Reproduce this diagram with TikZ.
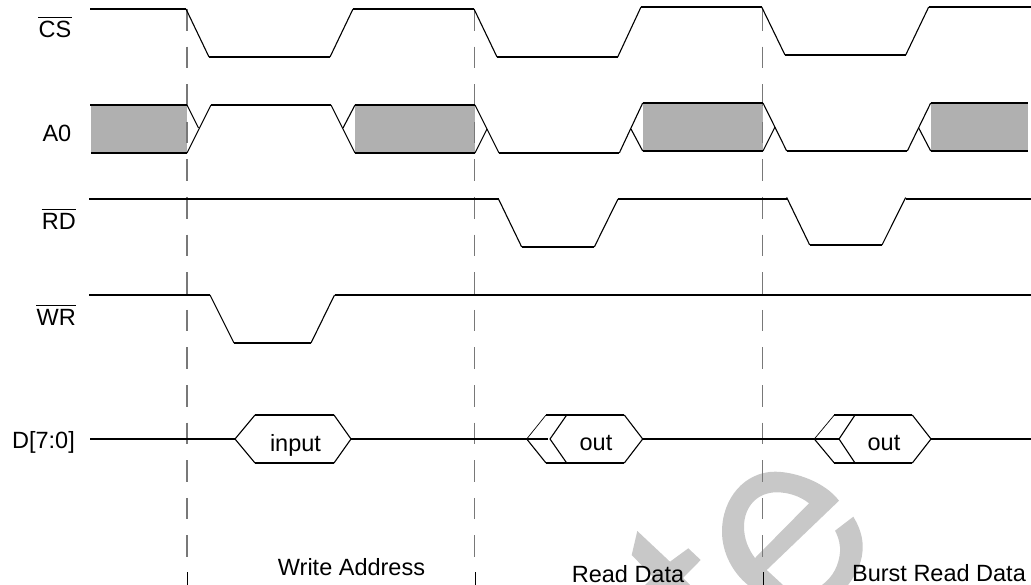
\documentclass[tikz,border=0pt]{standalone}
\usepackage{fontspec}
\setmainfont{Liberation Sans}
\definecolor{wavegray}{HTML}{B0B0B0}
\definecolor{markgray}{HTML}{C8C8C8}
\definecolor{dashgray}{HTML}{787878}
\tikzset{
  wave/.style={line width=1.6pt,line join=miter},
  edge/.style={line width=1.1pt},
  thin edge/.style={line width=.7pt},
  guide/.style={dashgray,line width=1.3pt,dash pattern=on 21.6pt off 16pt},
  guidetail/.style={black,line width=.9pt},
  bar/.style={line width=1.2pt},
  sig/.style={font=\fontsize{23.5}{26}\selectfont,anchor=base east,inner sep=0pt},
  lbl/.style={font=\fontsize{23.5}{26}\selectfont,anchor=base,inner sep=0pt},
}
\begin{document}
\begin{tikzpicture}[x=1pt,y=-1pt]
\useasboundingbox (0,0) rectangle (1031,585);
% watermark
\fill[markgray] (637.3,531) -- (670,561.7) -- (688.3,548.3) -- (700.7,560) -- (683,578) -- (690,585) -- (645,585) -- (653,577) -- (631.7,555) -- cycle;
\fill[markgray,even odd rule] (839,500.7) .. controls (825,482) and (795,471.7) .. (775,471.7) .. controls (745,471.7) and (722,498) .. (722,531.7) .. controls (722,553) and (733,573) .. (748,585) -- (783,585) -- (766.7,570) -- cycle
 (809,503.3) .. controls (800,496) and (788,492.3) .. (776.7,492.3) .. controls (757,492.3) and (744,507) .. (744,526.7) .. controls (744,538) and (748,549) .. (755,558) -- cycle;
\fill[markgray] (853.3,516.7) -- (835,530.7) .. controls (839,538) and (840.5,546) .. (840,552) .. controls (839,565) and (833,577) .. (822,585) -- (848,585) .. controls (858,572) and (862.7,560) .. (862.7,546.7) .. controls (862.7,536) and (859,526) .. (853.3,516.7) -- cycle;
% gray bands
\fill[wavegray] (91,105) rectangle (187,153);
\fill[wavegray] (355,105) rectangle (475,153);
\fill[wavegray] (643,103) rectangle (763,151);
\fill[wavegray] (931,103) rectangle (1028,151);
% guides
\foreach \gx in {187,474.7,762.7}{
  \draw[guide] (\gx,9) -- (\gx,557);
  \draw[guidetail] (\gx+.5,572) -- (\gx+.5,585);
}
% CS
\draw[wave] (90,9) -- (186,9);
\draw[edge] (186,9) -- (209,57);
\draw[wave] (209,57) -- (330,57);
\draw[edge] (330,57) -- (353,9);
\draw[wave] (353,9) -- (474,9);
\draw[edge] (474,9) -- (497,57);
\draw[wave] (497,57) -- (617.7,57);
\draw[edge] (617.7,57) -- (641,7);
\draw[wave] (641,7) -- (761.7,7);
\draw[edge] (761.7,7) -- (785,55);
\draw[wave] (785,55) -- (905.7,55);
\draw[edge] (905.7,55) -- (928.7,7);
\draw[wave] (928.7,7) -- (1031,7);
% A0
\draw[wave] (90,105) -- (187,105);
\draw[wave] (91,153) -- (187,153);
\draw[edge] (187,105) -- (198.5,128);
\draw[edge] (187,153) -- (211,105);
\draw[wave] (211,105) -- (331,105);
\draw[edge] (331,105) -- (355,153);
\draw[edge] (355,105) -- (343,128);
\draw[wave] (355,105) -- (475,105);
\draw[wave] (355,153) -- (475,153);
\draw[edge] (475,105) -- (499,153);
\draw[edge] (475,153) -- (487,129);
\draw[wave] (499,153) -- (619.3,153);
\draw[edge] (619.3,153) -- (642.7,103);
\draw[edge] (642.7,151) -- (631,129);
\draw[wave] (642.7,103) -- (763,103);
\draw[wave] (642.7,151) -- (763,151);
\draw[edge] (763,103) -- (786.7,151);
\draw[edge] (763,151) -- (775,127);
\draw[wave] (786.7,151) -- (907.3,151);
\draw[edge] (907.3,151) -- (930.7,103);
\draw[edge] (930.7,151) -- (918.7,128);
\draw[wave] (930.7,103) -- (1028,103);
\draw[wave] (930.7,151) -- (1028,151);
% RD
\draw[wave] (89,199) -- (498.5,199);
\draw[edge] (498.5,199) -- (521.7,247);
\draw[wave] (521.7,247) -- (594.3,247);
\draw[edge] (594.3,247) -- (618,199);
\draw[wave] (618,199) -- (786.7,199);
\draw[edge] (786.7,197.5) -- (809.7,245);
\draw[wave] (809.7,245) -- (882,245);
\draw[edge] (882,245) -- (905.7,197.5);
\draw[wave] (905.7,199) -- (1031,199);
% WR
\draw[wave] (89,295) -- (210,295);
\draw[edge] (210,295) -- (234,343);
\draw[wave] (234,343) -- (311,343);
\draw[edge] (311,343) -- (334.5,295);
\draw[wave] (334.5,295) -- (1031,295);
% D[7:0]
\draw[wave] (90,439) -- (235,439);
\draw[edge] (235,439) -- (255,415) (334,415) -- (351,439) -- (334,463) (255,463) -- (235,439);
\draw[wave] (255,415) -- (334,415) (255,463) -- (334,463);
\draw[wave] (351,439) -- (526.7,439);
\draw[thin edge] (546,415) -- (526.7,439);
\draw[edge] (526.7,439) -- (546,463);
\draw[wave] (526.7,439) -- (548,439);
\draw[edge] (566.7,415) -- (550,439) -- (566.7,463);
\draw[wave] (546,415) -- (624.3,415) (546,463) -- (624.3,463);
\draw[edge] (624.3,415) -- (642.7,439) -- (624.3,463);
\draw[wave] (642.7,439) -- (839,439);
\draw[thin edge] (834.3,415) -- (814.3,439);
\draw[edge] (814.3,439) -- (834.3,463);
\draw[edge] (855,415) -- (839,439) -- (855,463);
\draw[wave] (834.3,415) -- (912.3,415) (834.3,463) -- (912.3,463);
\draw[edge] (912.3,415) -- (931,439) -- (912.3,463);
\draw[wave] (931,439) -- (1031,439);
% labels
\node[sig] (cs) at (71.5,38) {CS};
\node[sig] (a0) at (71.5,141.5) {A0};
\node[sig] (rd) at (76,229.5) {RD};
\node[sig] (wr) at (76,325.5) {WR};
\node[sig] (d) at (75,448) {D[7:0]};
\draw[bar] ([yshift=3.6pt]cs.north west) -- ([yshift=3.6pt]cs.north east);
\draw[bar] ([yshift=3.6pt]rd.north west) -- ([yshift=3.6pt]rd.north east);
\draw[bar] ([yshift=3.6pt]wr.north west) -- ([yshift=3.6pt]wr.north east);
\node[lbl] (in) at (295.5,451.5) {input};
\node[lbl] (o1) at (596,450.5) {out};
\node[lbl] (o2) at (884,450.5) {out};
\node[lbl] (wa) at (351.5,575) {Write Address};
\node[lbl] (rdd) at (628,582) {Read Data};
\node[lbl] (brd) at (939,581) {Burst Read Data};
\end{tikzpicture}
\end{document}
